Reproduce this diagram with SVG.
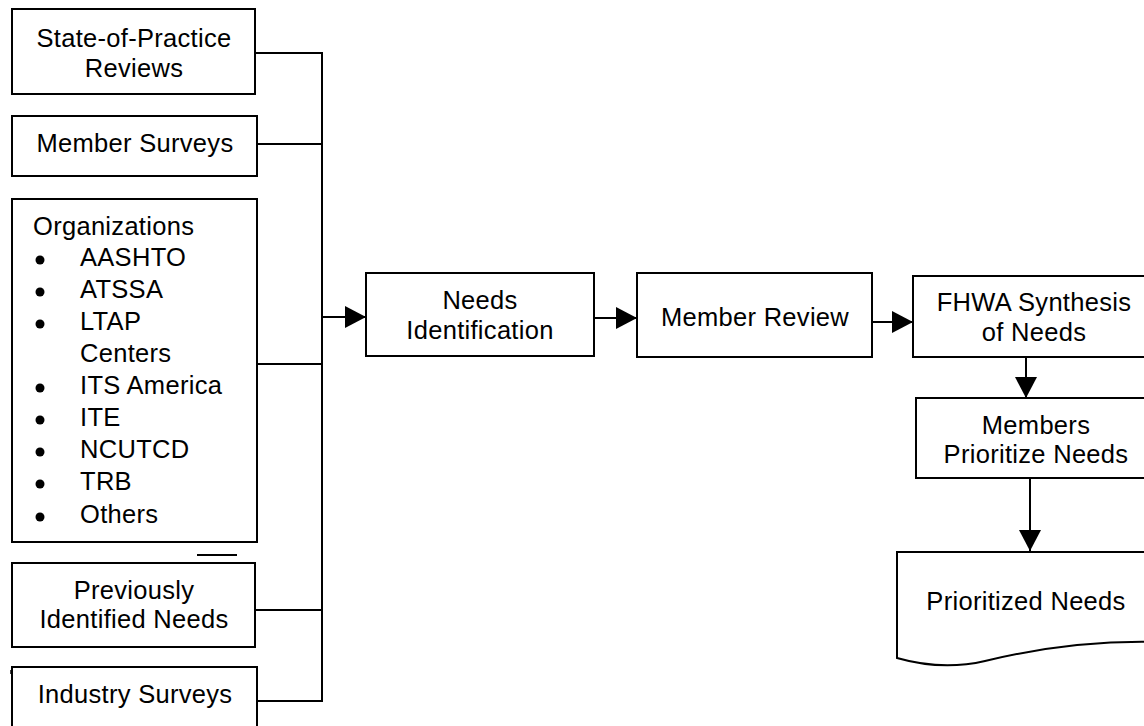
<svg xmlns="http://www.w3.org/2000/svg" width="1144" height="726" viewBox="0 0 1144 726">
<defs>
<style>
.box{fill:#fff;stroke:#000;stroke-width:2}
.t{font-family:"Liberation Sans",Arial,sans-serif;font-size:25.5px;fill:#000;letter-spacing:0.3px}
.c{text-anchor:middle}
.ln{stroke:#000;stroke-width:2;fill:none}
</style>
<marker id="ah" markerUnits="userSpaceOnUse" markerWidth="22" markerHeight="22" viewBox="0 0 22 22" refX="21" refY="11" orient="auto">
<path d="M0,0 L21,11 L0,22 Z" fill="#000"/>
</marker>
</defs>
<rect width="1144" height="726" fill="#fff"/>
<g id="connectors">
<line class="ln" x1="255" y1="53" x2="322" y2="53"/>
<line class="ln" x1="257" y1="144" x2="322" y2="144"/>
<line class="ln" x1="257" y1="364" x2="322" y2="364"/>
<line class="ln" x1="255" y1="610" x2="322" y2="610"/>
<line class="ln" x1="257" y1="701" x2="322" y2="701"/>
<line class="ln" x1="322" y1="52" x2="322" y2="702"/>
<line class="ln" x1="322" y1="317" x2="366" y2="317" marker-end="url(#ah)"/>
<line class="ln" x1="594" y1="318" x2="637" y2="318" marker-end="url(#ah)"/>
<line class="ln" x1="872" y1="322" x2="913" y2="322" marker-end="url(#ah)"/>
<line class="ln" x1="1026" y1="357" x2="1026" y2="398" marker-end="url(#ah)"/>
<line class="ln" x1="1030" y1="478" x2="1030" y2="551" marker-end="url(#ah)"/>
</g>
<line class="ln" x1="197" y1="555" x2="237" y2="555"/>
<line stroke="#000" stroke-width="1.5" x1="11" y1="670" x2="11" y2="674"/>
<g id="state-of-practice">
<rect class="box" x="12" y="9" width="243" height="85"/>
<text class="t c" x="134" y="47">State-of-Practice</text>
<text class="t c" x="134" y="77">Reviews</text>
</g>
<g id="member-surveys">
<rect class="box" x="12" y="116" width="245" height="60"/>
<text class="t c" x="135" y="152">Member Surveys</text>
</g>
<g id="organizations">
<rect class="box" x="12" y="199" width="245" height="343"/>
<text class="t" x="33" y="235">Organizations</text>
<g fill="#000">
<circle cx="40" cy="260" r="4.5"/>
<circle cx="40" cy="292" r="4.5"/>
<circle cx="40" cy="324" r="4.5"/>
<circle cx="40" cy="388" r="4.5"/>
<circle cx="40" cy="420" r="4.5"/>
<circle cx="40" cy="452" r="4.5"/>
<circle cx="40" cy="484" r="4.5"/>
<circle cx="40" cy="517" r="4.5"/>
</g>
<text class="t" x="80" y="266">AASHTO</text>
<text class="t" x="80" y="298">ATSSA</text>
<text class="t" x="80" y="330">LTAP</text>
<text class="t" x="80" y="362">Centers</text>
<text class="t" x="80" y="394">ITS America</text>
<text class="t" x="80" y="426">ITE</text>
<text class="t" x="80" y="458">NCUTCD</text>
<text class="t" x="80" y="490">TRB</text>
<text class="t" x="80" y="523">Others</text>
</g>
<g id="previously-identified">
<rect class="box" x="12" y="563" width="243" height="84"/>
<text class="t c" x="134" y="599">Previously</text>
<text class="t c" x="134" y="628">Identified Needs</text>
</g>
<g id="industry-surveys">
<rect class="box" x="12" y="667" width="245" height="80"/>
<text class="t c" x="135" y="703">Industry Surveys</text>
</g>
<g id="needs-identification">
<rect class="box" x="366" y="273" width="228" height="83"/>
<text class="t c" x="480" y="309">Needs</text>
<text class="t c" x="480" y="339">Identification</text>
</g>
<g id="member-review">
<rect class="box" x="637" y="273" width="235" height="84"/>
<text class="t c" x="755" y="326">Member Review</text>
</g>
<g id="fhwa-synthesis">
<rect class="box" x="913" y="276" width="242" height="81"/>
<text class="t c" x="1034" y="311">FHWA Synthesis</text>
<text class="t c" x="1034" y="341">of Needs</text>
</g>
<g id="members-prioritize">
<rect class="box" x="916" y="398" width="240" height="80"/>
<text class="t c" x="1036" y="434">Members</text>
<text class="t c" x="1036" y="463">Prioritize Needs</text>
</g>
<g id="prioritized-needs">
<path class="box" d="M897,552 L1160,552 L1160,642 C1090,640 1030,650 985,661 C955,668 925,666 897,658 Z"/>
<text class="t c" x="1026" y="610">Prioritized Needs</text>
</g>
</svg>
